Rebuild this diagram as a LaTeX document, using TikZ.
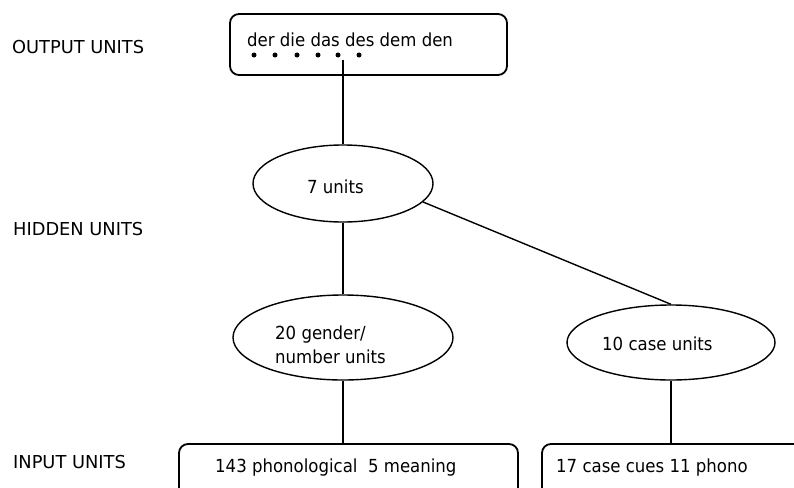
\documentclass[tikz,border=0pt]{standalone}
\usepackage{fontspec}
\setmainfont{DejaVu Sans}
\newfontfamily\nodefont[FakeStretch=0.92]{DejaVu Sans}
\usetikzlibrary{shapes.geometric}
\begin{document}
\begin{tikzpicture}[x=1pt,y=-1pt,
  lbl/.style={anchor=base west,inner sep=0pt,font=\fontsize{17.8}{21}\selectfont},
  txt/.style={anchor=base west,inner sep=0pt,font=\nodefont\fontsize{18}{24}\selectfont},
  box/.style={draw,rounded corners=9pt,line width=1.8pt,inner sep=0pt},
  unit/.style={draw,ellipse,line width=1.4pt,inner sep=0pt},
  dot/.style={circle,fill,inner sep=0pt,minimum size=5pt},
  conn/.style={line width=1.4pt}]
\useasboundingbox (0,0) rectangle (794,487);
\clip (0,0) rectangle (794,487);
% layer labels
\node[lbl] (lo) at (12,54) {OUTPUT UNITS};
\node[lbl] (lh) at (13,235) {HIDDEN UNITS};
\node[lbl] (li) at (13,468) {INPUT UNITS};
% output box
\node[box,minimum width=277pt,minimum height=61pt] (out) at (368.5,44.5) {};
\node[txt] (words) at (247,47) {der die das des dem den};
\foreach \i/\x in {1/254,2/275,3/297,4/318,5/338,6/359}
  \node[dot] (d\i) at (\x,55) {};
\coordinate (otap) at (343,60);
% hidden units
\node[unit,minimum width=180pt,minimum height=77pt] (h7) at (343,183.5) {};
\node[txt] (h7t) at (307,193) {7 units};
% gender / number
\node[unit,minimum width=220pt,minimum height=85pt] (gn) at (343,337.5) {};
\node[txt,align=left,anchor=west] (gnt) at (275,345) {20 gender/\\number units};
% case
\node[unit,minimum width=208pt,minimum height=75pt] (cs) at (671,342.5) {};
\node[txt] (cst) at (602,350) {10 case units};
% input boxes
\node[box,minimum width=339pt,minimum height=80pt] (lb) at (348.5,484) {};
\node[txt] (lbt) at (215,472) {143 phonological\ \ 5 meaning};
\node[box,minimum width=300pt,minimum height=80pt] (rb) at (692,484) {};
\node[txt] (rbt) at (556,472) {17 case cues 11 phono};
% connectors
\draw[conn] (otap) -- (otap |- h7.north);
\draw[conn] (h7.south) -- (h7.south |- gn.north);
\draw[conn] (h7.-13) -- (cs.north);
\draw[conn] (gn.south) -- (gn.south |- lb.north);
\draw[conn] (cs.south) -- (cs.south |- rb.north);
\end{tikzpicture}
\end{document}
